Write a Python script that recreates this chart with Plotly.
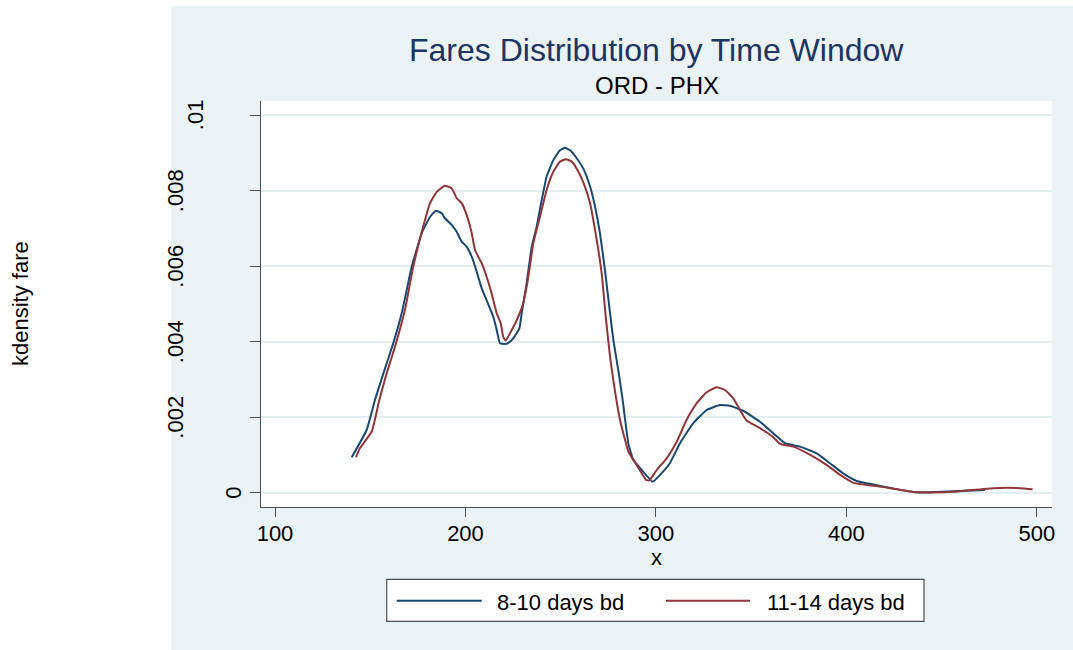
import plotly.graph_objects as go

# Kernel density estimates of fares, ORD - PHX
fare_8_10 = [140.3, 148.1, 152.5, 156.9, 162.1, 166.5, 171.8, 177.0, 181.4, 184.5, 187.5,
             189.2, 192.8, 195.4, 198.0, 200.6, 203.3, 205.9, 208.5, 211.1, 214.6, 216.4,
             218.1, 220.7, 222.5, 225.1, 228.3, 229.5, 232.1, 234.8, 237.4, 240.0, 242.6,
             246.1, 249.6, 252.2, 254.9, 258.4, 261.8, 265.4, 268.0, 270.6, 273.2, 275.9,
             277.6, 280.2, 282.5, 285.5, 288.1, 292.5, 298.3, 302.1, 307.3, 312.6, 319.6,
             326.6, 333.6, 338.8, 345.8, 354.6, 361.6, 367.7, 375.6, 384.4, 391.3, 398.3,
             405.3, 417.6, 435.1, 442.1, 456.1, 472.7]
dens_8_10 = [0.00094, 0.00166, 0.00246, 0.00316, 0.00396, 0.00475, 0.00599, 0.00687, 0.00731,
             0.00747, 0.00740, 0.00727, 0.00709, 0.00691, 0.00665, 0.00652, 0.00625, 0.00585,
             0.00541, 0.00510, 0.00466, 0.00431, 0.00396, 0.00394, 0.00397, 0.00409, 0.00435,
             0.00475, 0.00555, 0.00652, 0.00705, 0.00775, 0.00837, 0.00881, 0.00907, 0.00914,
             0.00907, 0.00886, 0.00859, 0.00811, 0.00758, 0.00687, 0.00590, 0.00475, 0.00405,
             0.00325, 0.00246, 0.00130, 0.00087, 0.00060, 0.00029, 0.00047, 0.00078, 0.00131,
             0.00184, 0.00219, 0.00232, 0.00230, 0.00217, 0.00188, 0.00157, 0.00131, 0.00122,
             0.00104, 0.00078, 0.00051, 0.00031, 0.00018, 0.00002, 0.00001, 0.00004, 0.00007]

fare_11_14 = [142.5, 144.6, 150.8, 154.8, 158.6, 163.0, 168.2, 172.6, 177.8, 181.4, 184.9,
              189.2, 192.8, 195.4, 198.0, 200.6, 203.3, 205.0, 208.5, 211.1, 213.7, 216.4,
              218.5, 219.8, 221.1, 224.3, 227.7, 230.3, 233.0, 235.6, 239.1, 242.6, 246.1,
              249.6, 252.8, 255.8, 259.3, 262.7, 265.4, 268.9, 271.5, 273.8, 275.9, 277.6,
              281.1, 285.5, 289.9, 294.8, 296.5, 300.4, 305.6, 310.9, 316.1, 321.4, 326.6,
              331.9, 336.2, 340.6, 344.1, 347.6, 354.6, 361.6, 365.1, 372.1, 381.0, 389.7,
              396.7, 403.7, 417.6, 435.1, 449.1, 459.6, 477.1, 491.1, 497.7]
dens_11_14 = [0.00094, 0.00118, 0.00162, 0.00246, 0.00316, 0.00387, 0.00484, 0.00599, 0.00705,
              0.00767, 0.00797, 0.00813, 0.00806, 0.00780, 0.00767, 0.00736, 0.00687, 0.00643,
              0.00608, 0.00572, 0.00528, 0.00475, 0.00449, 0.00413, 0.00403, 0.00431, 0.00466,
              0.00502, 0.00572, 0.00661, 0.00731, 0.00802, 0.00850, 0.00877, 0.00883, 0.00877,
              0.00850, 0.00811, 0.00767, 0.00669, 0.00581, 0.00457, 0.00360, 0.00298, 0.00193,
              0.00109, 0.00073, 0.00034, 0.00032, 0.00060, 0.00091, 0.00135, 0.00193, 0.00237,
              0.00266, 0.00279, 0.00272, 0.00250, 0.00219, 0.00191, 0.00171, 0.00147, 0.00129,
              0.00122, 0.00100, 0.00073, 0.00047, 0.00026, 0.00016, 0.00002, 0.00001, 0.00004,
              0.00012, 0.00012, 0.00009]

series_names = ["8-10 days bd", "11-14 days bd"]
series_colors = ["#1A476F", "#90353B"]

x_ticks = [100, 200, 300, 400, 500]
y_ticks = [0, 0.002, 0.004, 0.006, 0.008, 0.01]
y_tick_labels = ["0", ".002", ".004", ".006", ".008", ".01"]

FONT = "Liberation Sans, Arial, sans-serif"
BG = "#EAF2F3"
AXIS = "#4D4D4D"

W, H = 1073, 650
ML, MR, MT, MB = 261, 21, 101, 143
PW, PH = W - ML - MR, H - MT - MB


def px_x(p):
    return (p - ML) / PW


def px_y(p):
    return (H - MB - p) / PH


fig = go.Figure()
for xs, ys, name, color in zip([fare_8_10, fare_11_14], [dens_8_10, dens_11_14],
                               series_names, series_colors):
    fig.add_trace(go.Scatter(x=xs, y=ys, mode="lines", name=name,
                             line=dict(color=color, width=2, shape="spline", smoothing=0.4),
                             showlegend=False, hoverinfo="x+y+name"))

shapes = [
    # outer graph region
    dict(type="rect", xref="paper", yref="paper", x0=px_x(171), x1=px_x(1080),
         y0=px_y(650), y1=px_y(6), fillcolor=BG, line=dict(width=0), layer="below"),
    # plot region
    dict(type="rect", xref="paper", yref="paper", x0=0, x1=1, y0=0, y1=1,
         fillcolor="white", line=dict(width=0), layer="below"),
    # legend box
    dict(type="rect", xref="paper", yref="paper", x0=px_x(386.7), x1=px_x(924),
         y0=px_y(621.3), y1=px_y(579.3), fillcolor="white",
         line=dict(color=AXIS, width=1.2), layer="above"),
]
legend_keys = [(396.7, 481.7), (666, 750)]
legend_text_x = [495, 765]
for (k0, k1), color in zip(legend_keys, series_colors):
    shapes.append(dict(type="line", xref="paper", yref="paper", x0=px_x(k0), x1=px_x(k1),
                       y0=px_y(600.7), y1=px_y(600.7), line=dict(color=color, width=2),
                       layer="above"))

annotations = [
    dict(text="Fares Distribution by Time Window", xref="paper", yref="paper",
         x=0.5, y=px_y(50.4), xanchor="center", yanchor="middle", showarrow=False,
         font=dict(family=FONT, size=32, color="#1E3461")),
    dict(text="ORD - PHX", xref="paper", yref="paper", x=0.5, y=px_y(85.5),
         xanchor="center", yanchor="middle", showarrow=False,
         font=dict(family=FONT, size=24, color="black")),
    dict(text="x", xref="paper", yref="paper", x=0.5, y=px_y(557.5),
         xanchor="center", yanchor="middle", showarrow=False,
         font=dict(family=FONT, size=22, color="black")),
    dict(text="kdensity fare", xref="paper", yref="paper", x=0, xshift=20 - ML, y=0.5,
         xanchor="center", yanchor="middle", textangle=-90, showarrow=False,
         font=dict(family=FONT, size=22, color="black")),
]
for tx, name in zip(legend_text_x, series_names):
    annotations.append(dict(text=name, xref="paper", yref="paper", x=px_x(tx), y=px_y(602.7),
                            xanchor="left", yanchor="middle", showarrow=False,
                            font=dict(family=FONT, size=22, color="black")))
# rotated y tick labels, placed further out the longer the label
for val, lab in zip(y_ticks, y_tick_labels):
    centre = 253.5 - 19.5 * len(lab)
    annotations.append(dict(text=lab, xref="paper", yref="y", x=0, xshift=centre - ML, y=val,
                            xanchor="center", yanchor="middle", textangle=-90,
                            showarrow=False, font=dict(family=FONT, size=22, color="black")))

fig.update_layout(
    width=W, height=H, autosize=False,
    margin=dict(l=ML, r=MR, t=MT, b=MB, pad=0),
    paper_bgcolor="white", plot_bgcolor="white",
    font=dict(family=FONT, size=22, color="black"),
    shapes=shapes, annotations=annotations,
    xaxis=dict(range=[92.65, 507.9], tickvals=x_ticks, ticks="outside", ticklen=9,
               tickwidth=1.2, tickcolor=AXIS, showline=True, linecolor=AXIS, linewidth=1.2,
               showgrid=False, zeroline=False, ticklabelstandoff=-3,
               tickfont=dict(family=FONT, size=22, color="black")),
    yaxis=dict(range=[-0.00038, 0.010376], tickvals=y_ticks, showticklabels=False,
               ticks="outside", ticklen=10, tickwidth=1.2, tickcolor=AXIS, showline=True,
               linecolor=AXIS, linewidth=1.2, showgrid=True, gridcolor="#E4EDEF", gridwidth=1.5,
               zeroline=False),
)

fig.write_html("out.html")
